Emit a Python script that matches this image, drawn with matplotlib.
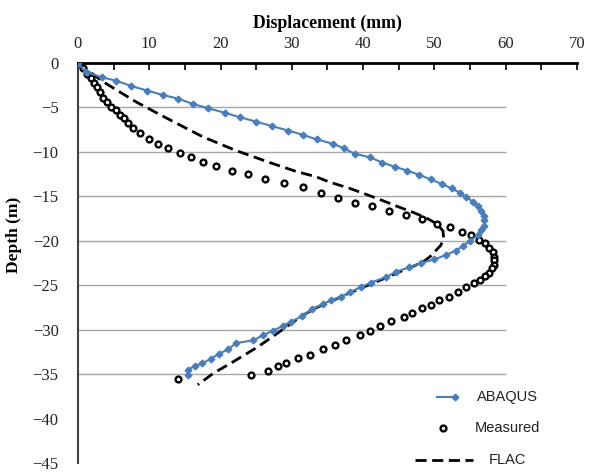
import matplotlib
matplotlib.use("Agg")
import matplotlib.pyplot as plt
from matplotlib.lines import Line2D

# ABAQUS model results: displacement (mm) vs depth (m)
abaqus_disp = [0.0, 1.1, 3.3, 5.4, 7.5, 9.7, 11.9, 14.0, 16.1, 18.3, 20.6, 22.7, 25.0,
               27.2, 29.5, 31.6, 33.5, 35.8, 37.3, 38.8, 40.9, 42.7, 44.5, 46.2, 47.9,
               49.5, 51.0, 52.4, 53.6, 54.5, 55.4, 56.1, 56.5, 56.9, 57.0, 56.9, 56.5,
               56.1, 55.0, 54.0, 53.0, 51.6, 50.0, 48.1, 46.4, 44.6, 43.2, 41.1, 39.7,
               38.1, 36.9, 35.5, 34.4, 32.8, 31.4, 29.9, 28.7, 27.4, 26.0, 24.6, 22.2,
               21.1, 19.8, 18.6, 17.4, 16.4, 15.4, 15.4]
abaqus_depth = [0.0, -1.0, -1.6, -2.0, -2.6, -3.1, -3.6, -4.0, -4.6, -5.1, -5.6, -6.1, -6.6,
                -7.1, -7.6, -8.1, -8.6, -9.1, -9.6, -10.2, -10.6, -11.2, -11.7, -12.1, -12.6,
                -13.1, -13.6, -14.1, -14.6, -15.1, -15.6, -16.1, -16.6, -17.2, -17.7, -18.3, -18.8,
                -19.4, -20.0, -20.6, -21.1, -21.6, -22.1, -22.5, -23.0, -23.5, -24.1, -24.7, -25.2,
                -25.8, -26.3, -26.7, -27.1, -27.7, -28.5, -29.1, -29.6, -30.1, -30.6, -31.2, -31.5,
                -32.2, -32.7, -33.3, -33.8, -34.1, -34.5, -35.1]

# Inclinometer measurements
measured_disp = [0.0, 0.75, 1.3, 1.8, 2.2, 2.6, 3.1, 3.5, 4.1, 4.7, 5.3, 5.9, 6.4, 7.0, 7.7,
                 8.7, 9.9, 11.2, 12.6, 14.3, 15.9, 17.5, 19.4, 21.6, 23.9, 26.3, 28.9, 31.5,
                 34.1, 36.5, 38.9, 41.2, 43.6, 46.0, 48.2, 50.4, 52.2, 53.9, 55.2, 56.3, 57.1,
                 57.7, 58.2, 58.4, 58.4, 58.3, 58.1, 57.7, 57.1, 56.4, 55.6, 54.4, 53.3, 52.0,
                 50.7, 49.5, 48.3, 46.9, 45.7, 43.9, 42.4, 40.9, 39.5, 37.6, 36.0, 34.4, 32.6,
                 30.9, 29.2, 28.1, 26.7, 24.3, 14.0]
measured_depth = [0.0, -0.6, -1.2, -1.7, -2.3, -2.7, -3.3, -3.9, -4.4, -4.9, -5.3, -5.8, -6.2,
                  -6.7, -7.3, -7.9, -8.6, -9.1, -9.6, -10.1, -10.6, -11.1, -11.6, -12.1, -12.5,
                  -13.1, -13.5, -14.0, -14.6, -15.2, -15.7, -16.1, -16.6, -17.1, -17.6, -18.1,
                  -18.5, -19.0, -19.4, -19.9, -20.3, -20.8, -21.3, -21.8, -22.2, -22.7, -23.1,
                  -23.6, -24.0, -24.4, -24.8, -25.2, -25.8, -26.3, -26.7, -27.2, -27.6, -28.1,
                  -28.6, -29.0, -29.6, -30.1, -30.6, -31.2, -31.7, -32.2, -32.8, -33.2, -33.7,
                  -34.1, -34.6, -35.1, -35.6]

# FLAC model results
flac_disp = [0.0, 3.5, 8.2, 12.9, 17.5, 22.0, 26.9, 30.6, 33.4, 35.3, 38.1, 40.5, 42.8, 45.0,
             47.0, 48.8, 49.9, 50.7, 51.2, 51.3, 50.9, 49.5, 48.4, 46.9, 45.1, 42.8, 40.4,
             38.0, 35.8, 33.5, 31.5, 28.5, 25.3, 21.8, 19.0, 16.8]
flac_depth = [0.0, -2.1, -4.4, -6.4, -8.3, -9.8, -11.2, -12.2, -12.8, -13.4, -14.1, -14.8,
              -15.5, -16.2, -16.8, -17.4, -17.9, -18.4, -18.9, -19.7, -20.5, -21.7, -22.4,
              -22.9, -23.5, -24.3, -25.1, -25.9, -26.7, -27.5, -28.4, -30.1, -31.9, -33.6,
              -34.9, -36.2]

x_ticks = [0, 10, 20, 30, 40, 50, 60, 70]
y_ticks = [0, -5, -10, -15, -20, -25, -30, -35, -40, -45]
grid_depths = [-5, -10, -15, -20, -25, -30, -35]
series_names = ["ABAQUS", "Measured", "FLAC"]

blue = "#4a7ebb"
serif = ["Liberation Serif", "DejaVu Serif"]
sans = ["Liberation Sans", "DejaVu Sans"]

fig = plt.figure(figsize=(5.89, 4.74), dpi=100)
ax = fig.add_axes([0.1324, 0.0232, 0.8472, 0.8439])
ax.set_xlim(0, 70)
ax.set_ylim(-45, 0)

# horizontal gridlines span only the first 60 mm
ax.hlines(grid_depths, 0, 60, colors="#a6a6a6", linewidth=1.0, zorder=1)

ax.plot(flac_disp, flac_depth, color="black", linewidth=2.0, dashes=(4, 2), zorder=3)
ax.plot(measured_disp, measured_depth, linestyle="none", marker="o", markersize=4.2,
        markerfacecolor="white", markeredgecolor="black", markeredgewidth=1.7, zorder=4)
ax.plot(abaqus_disp, abaqus_depth, color=blue, linewidth=1.5, marker="D", markersize=3.4,
        markerfacecolor=blue, markeredgecolor=blue, zorder=5)

# axes styling
for side in ("right", "bottom"):
    ax.spines[side].set_visible(False)
ax.spines["top"].set_color("black")
ax.spines["top"].set_linewidth(2.0)
ax.spines["left"].set_color("#404040")
ax.spines["left"].set_linewidth(1.5)

ax.xaxis.tick_top()
ax.xaxis.set_label_position("top")
ax.set_xticks(x_ticks)
ax.set_xticks(range(5, 70, 10), minor=True)
ax.tick_params(axis="x", which="both", direction="in", length=5, width=1.2,
               colors="black", labelcolor="#222222", pad=8)
ax.set_yticks(y_ticks)
ax.tick_params(axis="y", length=0, pad=14, labelcolor="#222222")
for lab in ax.get_xticklabels():
    lab.set_fontfamily(serif)
    lab.set_fontsize(12)
for lab in ax.get_yticklabels():
    lab.set_fontfamily(serif)
    lab.set_fontsize(12)

ax.set_xlabel("Displacement (mm)", fontfamily=serif, fontweight="bold", fontsize=12.8,
              labelpad=6)
ax.set_ylabel("Depth (m)", fontfamily=serif, fontweight="bold", fontsize=12.5)
ax.yaxis.set_label_coords(-0.112, 0.57)

# legend drawn as keys and centred labels in the lower right
tr = ax.transAxes
rows_y = [0.165, 0.087, 0.008]
ax.add_line(Line2D([0.72, 0.756], [rows_y[0]] * 2, transform=tr, color=blue, linewidth=1.5,
                   marker="D", markersize=3.4, markevery=[1], clip_on=False))
ax.add_line(Line2D([0.732], [rows_y[1]], transform=tr, linestyle="none", marker="o",
                   markersize=4.2, markerfacecolor="white", markeredgecolor="black",
                   markeredgewidth=1.7, clip_on=False))
ax.add_line(Line2D([0.676, 0.792], [rows_y[2]] * 2, transform=tr, color="black",
                   linewidth=2.0, dashes=(4, 2), clip_on=False))
for name, yy in zip(series_names, rows_y):
    ax.text(0.86, yy, name, transform=tr, ha="center", va="center", fontsize=10.5,
            fontfamily=sans, color="#222222")

fig.savefig("out.png", dpi=100, facecolor="white")
